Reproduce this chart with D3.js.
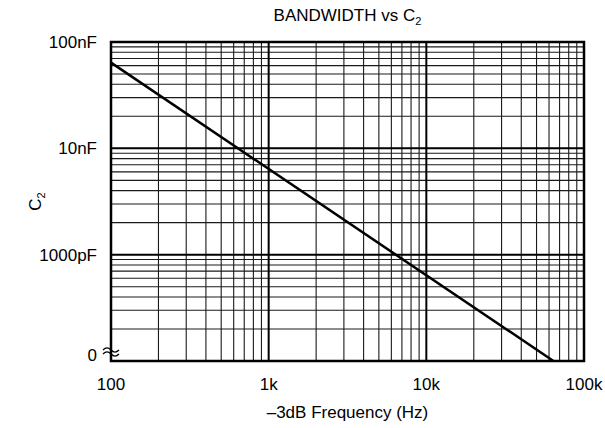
<!DOCTYPE html>
<html>
<head>
<script src="https://d3js.org/d3.v7.min.js"></script>
<style>
  html, body { margin: 0; padding: 0; background: #fff; }
  svg { display: block; font-family: "Liberation Sans", Arial, sans-serif; }
</style>
</head>
<body>
<script>
// data: -3dB frequency (Hz) vs C2 (pF)
const FREQ = [100, 64000];
const C2_PF = [64000, 100];
const X_TICKS = [100, 1000, 10000, 100000];
const X_LABELS = ["100", "1k", "10k", "100k"];
const Y_TICKS = [100, 1000, 10000, 100000];
const Y_LABELS = ["0", "1000pF", "10nF", "100nF"];

const W = 605, H = 428;
const M = { left: 111, right: 21, top: 42, bottom: 67 };
const FS = 17;

const svg = d3.select("body").append("svg").attr("width", W).attr("height", H);

const x = d3.scaleLog().domain([100, 100000]).range([M.left, W - M.right]);
const y = d3.scaleLog().domain([100, 100000]).range([H - M.bottom, M.top]);

// minor grid values (2..9 in each decade)
function minors(lo, hi) {
  const out = [];
  for (let d = lo; d < hi; d *= 10) {
    for (let k = 2; k <= 9; k++) out.push(d * k);
  }
  return out;
}

const grid = svg.append("g");
grid.selectAll(".vmin").data(minors(100, 100000)).enter().append("line")
  .attr("x1", d => x(d)).attr("x2", d => x(d))
  .attr("y1", M.top).attr("y2", H - M.bottom)
  .attr("stroke", "#1a1a1a").attr("stroke-width", 1.1);
grid.selectAll(".hmin").data(minors(100, 100000)).enter().append("line")
  .attr("y1", d => y(d)).attr("y2", d => y(d))
  .attr("x1", M.left).attr("x2", W - M.right)
  .attr("stroke", "#1a1a1a").attr("stroke-width", 1.1);
grid.selectAll(".vmaj").data(X_TICKS).enter().append("line")
  .attr("x1", d => x(d)).attr("x2", d => x(d))
  .attr("y1", M.top).attr("y2", H - M.bottom)
  .attr("stroke", "#000").attr("stroke-width", 2);
grid.selectAll(".hmaj").data(Y_TICKS).enter().append("line")
  .attr("y1", d => y(d)).attr("y2", d => y(d))
  .attr("x1", M.left).attr("x2", W - M.right)
  .attr("stroke", "#000").attr("stroke-width", 2);

// frame
svg.append("rect")
  .attr("x", M.left).attr("y", M.top)
  .attr("width", W - M.left - M.right).attr("height", H - M.top - M.bottom)
  .attr("fill", "none").attr("stroke", "#000").attr("stroke-width", 2.5);

// curve
svg.append("path")
  .datum(FREQ.map((f, i) => [f, C2_PF[i]]))
  .attr("d", d3.line().x(d => x(d[0])).y(d => y(d[1])))
  .attr("fill", "none").attr("stroke", "#000").attr("stroke-width", 2.5);

// tick labels
svg.selectAll(".xl").data(X_TICKS).enter().append("text")
  .attr("x", d => x(d)).attr("y", H - M.bottom + 29)
  .attr("text-anchor", "middle").attr("font-size", FS)
  .text((d, i) => X_LABELS[i]);

svg.selectAll(".yl").data(Y_TICKS).enter().append("text")
  .attr("x", M.left - 14)
  .attr("y", d => y(d) + (d === 100 ? 0 : 6))
  .attr("text-anchor", "end").attr("font-size", FS)
  .text((d, i) => Y_LABELS[i]);

// axis break mark
const by = y(100) - 11;
[0, 4].forEach(off => {
  svg.append("path")
    .attr("d", `M${M.left - 8},${by + off} q4,-4 8,0 t8,0`)
    .attr("fill", "none").attr("stroke", "#000").attr("stroke-width", 1.2);
});

// titles
const title = svg.append("text")
  .attr("x", (M.left + W - M.right) / 2).attr("y", 21)
  .attr("text-anchor", "middle").attr("font-size", FS);
title.append("tspan").text("BANDWIDTH vs C");
title.append("tspan").attr("font-size", 11).attr("dy", 4).text("2");

svg.append("text")
  .attr("x", (M.left + W - M.right) / 2).attr("y", H - 10)
  .attr("text-anchor", "middle").attr("font-size", FS)
  .text("\u20133dB Frequency (Hz)");

const yt = svg.append("text")
  .attr("transform", `translate(41,${(M.top + H - M.bottom) / 2}) rotate(-90)`)
  .attr("text-anchor", "middle").attr("font-size", FS);
yt.append("tspan").text("C");
yt.append("tspan").attr("font-size", 11).attr("dy", 4).text("2");
</script>
</body>
</html>
